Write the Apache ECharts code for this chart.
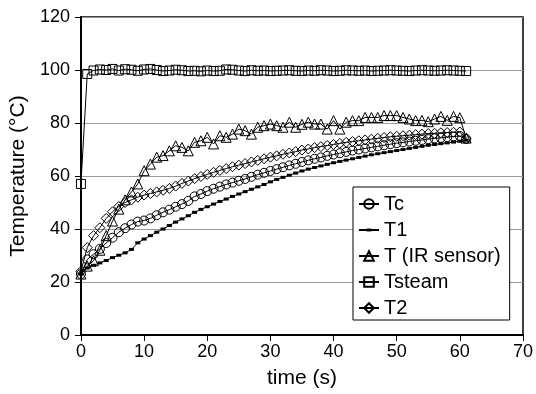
<!DOCTYPE html>
<html><head><meta charset="utf-8">
<script src="https://cdn.jsdelivr.net/npm/echarts@6/dist/echarts.min.js"></script>
<style>html,body{margin:0;padding:0;background:#fff}#c{width:536px;height:394px}</style>
</head><body><div id="c"></div>
<script>
const time = [0,1,2,3,4,5,6,7,8,9,10,11,12,13,14,15,16,17,18,19,20,21,22,23,24,25,26,27,28,29,30,31,32,33,34,35,36,37,38,39,40,41,42,43,44,45,46,47,48,49,50,51,52,53,54,55,56,57,58,59,60,61];
const Tc = [23,28.5,30.5,32.5,34.7,36.7,38.8,40.3,41.7,42.8,43.2,44,45.2,46.3,47.3,48.4,49.4,50.6,52.3,53.2,54.3,55.2,56,56.8,57.5,58.2,58.9,59.7,60.5,61.2,61.9,62.6,63.3,64,64.6,65.3,65.9,66.5,67,67.6,68.1,68.6,69.1,69.6,70,70.4,70.8,71.2,71.6,72,72.4,72.7,73,73.3,73.6,73.9,74.2,74.4,74.7,74.9,75.1,74];
const T1 = [23,25.3,26.3,27.2,28.1,29.2,30.1,31,32.3,34.8,36.2,37.5,38.8,40,41.3,42.6,43.8,45,46.3,47.4,48.4,49.4,50.4,51.3,52.3,53.2,54.1,55,55.9,56.8,57.8,58.7,59.5,60.3,61.1,61.9,62.6,63.2,63.8,64.4,65,65.5,66,66.5,67,67.5,68,68.4,68.8,69.2,69.6,70,70.4,70.8,71.2,71.6,71.9,72.2,72.5,72.8,73.1,73.5];
const TIR = [23,26,28,32,37.5,43,47.5,51,54,57,62,64.5,67.1,67.7,69.5,71.4,70.8,69.5,72.7,73.3,74.6,72.1,75.2,74.6,75.8,77.7,77.1,75.8,78.4,79,79.6,79,78.4,80.3,78.4,79.5,80.3,79.6,79.6,77.7,80.9,77.7,80.3,80.9,80.9,82.1,82.1,82.1,82.8,82.8,82.8,82.1,81.5,80.9,81,80.5,81.5,82.5,81,82.5,82,74.3];
const Tsteam = [57,98.5,99.8,100.2,100,100.4,99.8,100.3,100.1,99.7,100.2,100.4,100,99.6,99.8,100.1,99.9,99.6,99.7,99.5,99.8,99.6,99.7,100.2,100.1,99.8,99.6,99.9,99.7,99.8,99.6,99.7,99.8,99.9,99.7,99.6,99.8,99.7,99.9,99.8,99.6,99.7,99.9,99.8,99.7,99.8,99.6,99.7,99.8,99.9,99.8,99.7,99.6,99.8,99.9,99.8,99.7,99.8,99.9,99.8,99.7,99.6];
const T2 = [24,33,37.5,40.5,44,46.5,48.5,50,51,52,52.8,53.4,54,54.6,55.3,56.2,57.2,58.1,59,59.8,60.6,61.4,62.1,62.8,63.5,64.1,64.7,65.3,65.9,66.5,67.1,67.6,68.2,68.7,69.2,69.8,70.2,70.7,71.1,71.5,71.9,72.3,72.7,73,73.3,73.6,73.9,74.2,74.5,74.8,75,75.2,75.4,75.6,75.8,76,76.1,76.3,76.4,76.5,76.6,74];
const xTicks = [0,10,20,30,40,50,60,70];
const yTicks = [0,20,40,60,80,100,120];
const seriesNames = ['Tc','T1','T (IR sensor)','Tsteam','T2'];

const font = 'Liberation Sans, Arial, sans-serif';
const dashSymbol = 'path://M0,0 M10,10 M2.5,3.5 L7.5,3.5 L7.5,6.5 L2.5,6.5 Z';
function pairs(v){ return time.map((t,i)=>[t,v[i]]); }
function mk(name, data, symbol, size, filled){
  return {
    name, type:'line', data:pairs(data), symbol, symbolSize:size,
    showSymbol:true, silent:true,
    lineStyle:{color:'#000', width:1},
    itemStyle:{color: filled ? '#000' : 'transparent', borderColor:'#000', borderWidth: filled?0:1},
    emphasis:{disabled:true}
  };
}
const chart = echarts.init(document.getElementById('c'), null, {renderer:'canvas'});
chart.setOption({
  animation:false,
  backgroundColor:'#fff',
  grid:{left:77, right:13, top:17, bottom:58, show:true, borderColor:'#000', borderWidth:1.5, backgroundColor:'transparent'},
  xAxis:{type:'value', min:xTicks[0], max:xTicks[xTicks.length-1], interval:10,
    name:'time (s)', nameLocation:'middle', nameGap:33,
    nameTextStyle:{fontFamily:font, fontSize:21, color:'#000'},
    axisLine:{show:true, onZero:false, lineStyle:{color:'#000', width:2}},
    axisTick:{show:true, inside:false, length:6, lineStyle:{color:'#000', width:1}},
    axisLabel:{fontFamily:font, fontSize:18, color:'#000', margin:8},
    splitLine:{show:false}},
  yAxis:{type:'value', min:yTicks[0], max:yTicks[yTicks.length-1], interval:20,
    name:'Temperature (°C)', nameLocation:'middle', nameGap:46, nameRotate:90,
    nameTextStyle:{fontFamily:font, fontSize:21, color:'#000'},
    axisLine:{show:true, onZero:false, lineStyle:{color:'#000', width:2}},
    axisTick:{show:true, inside:false, length:6, lineStyle:{color:'#000', width:1}},
    axisLabel:{fontFamily:font, fontSize:18, color:'#000', margin:11},
    splitLine:{show:true, lineStyle:{color:'#999', width:1}}},
  legend:{orient:'vertical', left:353, top:187, backgroundColor:'#fff',
    borderColor:'#000', borderWidth:1, padding:[7,9,2,5], itemGap:6,
    itemWidth:20, itemHeight:12,
    textStyle:{fontFamily:font, fontSize:20, color:'#000', lineHeight:20},
    data:seriesNames},
  series:[
    mk(seriesNames[0], Tc, 'circle', 9, false),
    mk(seriesNames[1], T1, dashSymbol, 10, true),
    mk(seriesNames[2], TIR, 'triangle', 10, false),
    mk(seriesNames[3], Tsteam, 'rect', 9, false),
    mk(seriesNames[4], T2, 'diamond', 10, false)
  ]
});
</script></body></html>
